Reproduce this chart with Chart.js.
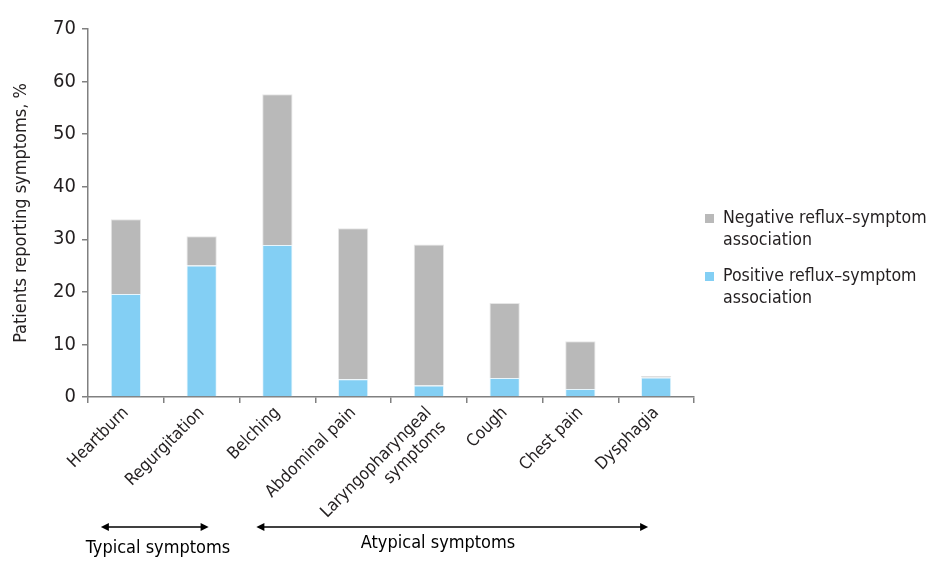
<!DOCTYPE html>
<html>
<head>
<meta charset="utf-8">
<script src="https://cdn.jsdelivr.net/npm/chart.js@4"></script>
<style>
  html, body { margin:0; padding:0; background:#fff; }
  #wrap { width:950px; height:561px; position:relative; }
</style>
</head>
<body>
<div id="wrap"><canvas id="c" width="950" height="561"></canvas></div>
<script>
const categories = ["Heartburn","Regurgitation","Belching","Abdominal pain",["Laryngopharyngeal","symptoms"],"Cough","Chest pain","Dysphagia"];
const positive = [19.6, 25.0, 28.9, 3.4, 2.2, 3.6, 1.5, 3.7];
const negative = [14.2, 5.6, 28.7, 28.7, 26.8, 14.3, 9.1, 0.3];
const yTicks = [0,10,20,30,40,50,60,70];
const legendLabels = [["Negative reflux\u2013symptom","association"],["Positive reflux\u2013symptom","association"]];
const groups = [["Typical symptoms",0,1],["Atypical symptoms",2,7]];

const FONT = "'Liberation Sans Narrow','DejaVu Sans Condensed','Roboto Condensed',sans-serif";
const BLUE = "#83cff4", GRAY = "#b9b9b9", INK = "#231f20";

function qs(id){ return document.getElementById(id); }

const extras = {
  id: "extras",
  afterDraw(chart){
    const ctx = chart.ctx, x = chart.scales.x;
    ctx.save();
    // legend
    const cols = [GRAY, BLUE];
    const ys = [218, 276];
    ctx.font = "17.6px " + FONT;
    ctx.textBaseline = "middle";
    legendLabels.forEach((lines, i) => {
      ctx.fillStyle = cols[i];
      ctx.fillRect(705, ys[i] - 4, 9, 9);
      ctx.fillStyle = INK;
      lines.forEach((t, j) => ctx.fillText(t, 723, ys[i] + j * 22));
    });
    // group arrows
    const ay = 527;
    ctx.strokeStyle = "#000";
    ctx.fillStyle = "#000";
    ctx.lineWidth = 1.5;
    groups.forEach(([label, a, b], i) => {
      const x1 = x.getPixelForValue(a) - (i === 0 ? 25 : 21);
      const x2 = x.getPixelForValue(b) + (i === 0 ? 7 : -8);
      ctx.beginPath(); ctx.moveTo(x1 + 3, ay); ctx.lineTo(x2 - 3, ay); ctx.stroke();
      [[x1, 1], [x2, -1]].forEach(([px, d]) => {
        ctx.beginPath();
        ctx.moveTo(px, ay);
        ctx.lineTo(px + d * 8, ay - 4);
        ctx.lineTo(px + d * 8, ay + 4);
        ctx.closePath(); ctx.fill();
      });
      ctx.font = "18px " + FONT;
      ctx.textAlign = "center";
      ctx.fillText(label, i === 0 ? 158 : 438, i === 0 ? 548 : 543);
    });
    ctx.restore();
  }
};

new Chart(qs("c"), {
  type: "bar",
  data: {
    labels: categories,
    datasets: [
      { label: "Positive reflux\u2013symptom association", data: positive, backgroundColor: BLUE, borderColor: "#e8f6fd", borderWidth: {top:1,left:1,right:1}, borderSkipped: "bottom" },
      { label: "Negative reflux\u2013symptom association", data: negative, backgroundColor: GRAY, borderColor: "#e6e6e6", borderWidth: {top:1,left:1,right:1}, borderSkipped: "bottom" }
    ]
  },
  options: {
    responsive: false,
    animation: false,
    devicePixelRatio: 1,
    layout: { padding: { top: 29, right: 256, left: 0, bottom: 0 } },
    datasets: { bar: { barPercentage: 0.4, categoryPercentage: 1.0 } },
    plugins: { legend: { display: false }, tooltip: { enabled: false } },
    scales: {
      x: {
        stacked: true,
        border: { color: "#808080", width: 1.5 },
        grid: { offset: true, drawOnChartArea: false, tickLength: 6, color: "#808080", lineWidth: 1.5 },
        ticks: { minRotation: 45, maxRotation: 45, color: INK, font: { family: FONT, size: 17 }, padding: 0, autoSkip: false },
        afterFit(s){ s.height = 164; }
      },
      y: {
        stacked: true,
        min: 0, max: 70,
        afterBuildTicks(s){ s.ticks = yTicks.map(v => ({ value: v })); },
        border: { color: "#808080", width: 1.5 },
        grid: { drawOnChartArea: false, tickLength: 6, color: "#808080", lineWidth: 1.5 },
        ticks: { color: INK, font: { family: FONT, size: 20 }, padding: 6 },
        title: { display: true, text: "Patients reporting symptoms, %", color: INK, font: { family: FONT, size: 18 }, padding: { top: 11, bottom: 0 } },
        afterFit(s){ s.width = 88; }
      }
    }
  },
  plugins: [extras]
});
</script>
</body>
</html>
